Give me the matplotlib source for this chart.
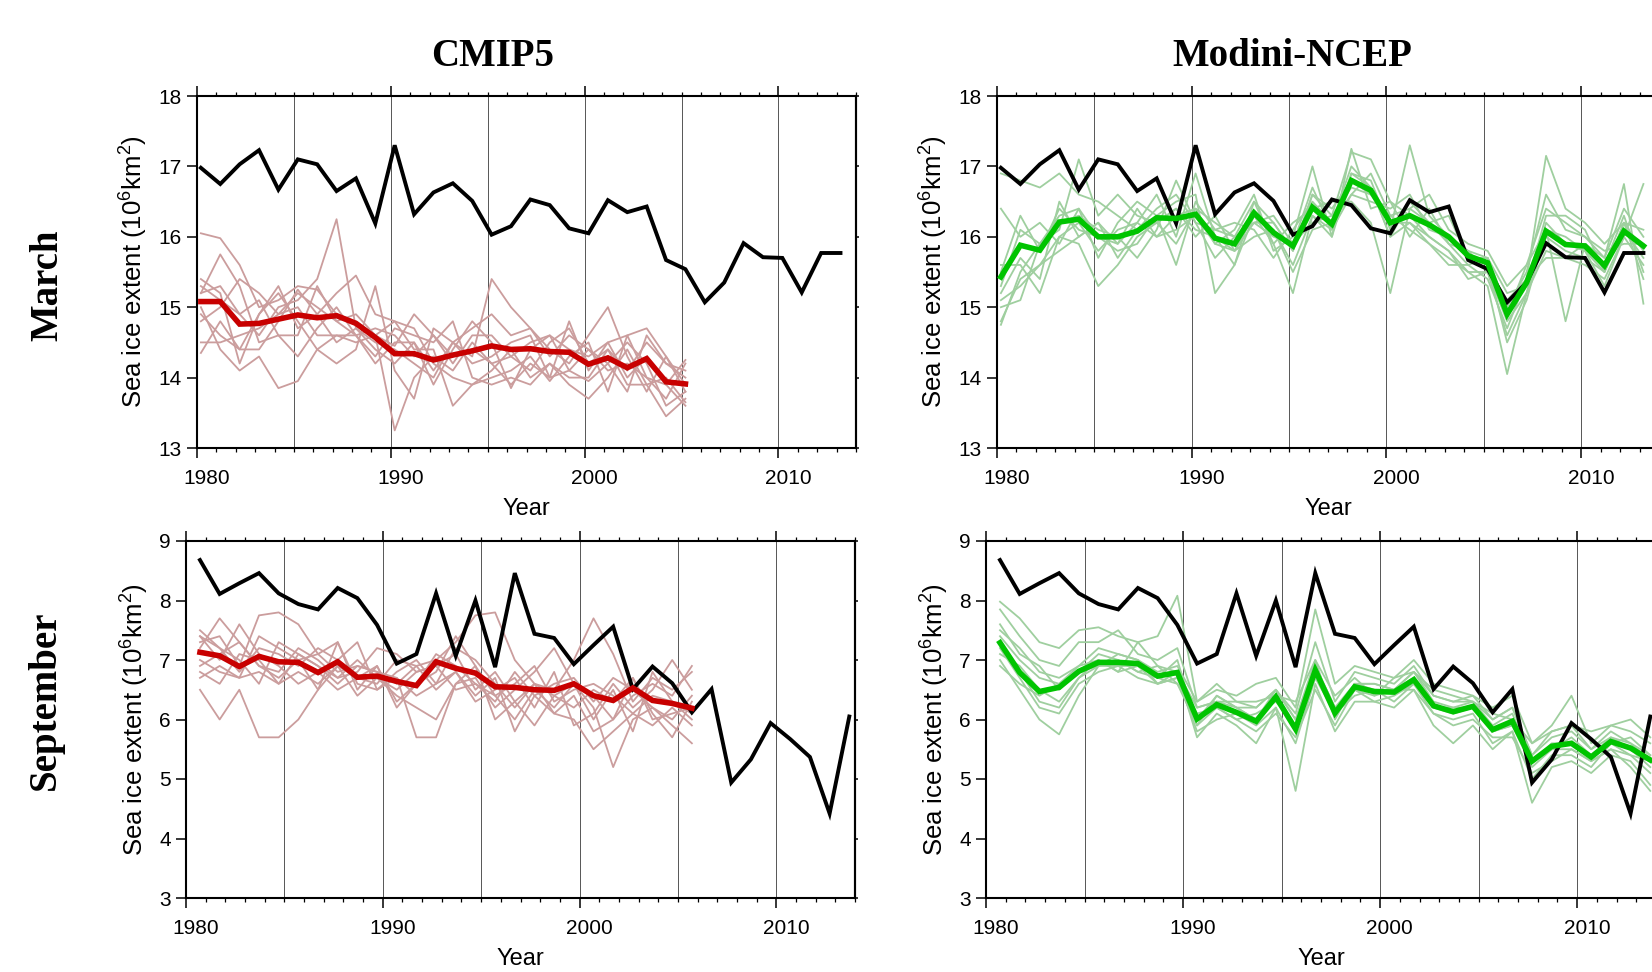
"""
Arctic sea ice extent: CMIP5 vs Modini-NCEP ensembles against observations.
March (top row) and September (bottom row), 1980-2013.
"""

import numpy as np
import matplotlib
matplotlib.use('Agg')
import matplotlib.pyplot as plt
import matplotlib.transforms as mtransforms
from matplotlib.ticker import MultipleLocator, FixedLocator

# ── Data ──────────────────────────────────────────────────────────────────────
years_obs = np.arange(1980, 2014)       # observations / Modini-NCEP
years_cmip = np.arange(1980, 2006)      # CMIP5 historical

col_titles = ['CMIP5', 'Modini-NCEP']
row_titles = ['March', 'September']
xticks = [1980, 1990, 2000, 2010]
grid_years = [1985, 1990, 1995, 2000, 2005, 2010]

obs_mar = [16.98, 16.75, 17.03, 17.23, 16.67, 17.10, 17.03, 16.65, 16.83, 16.19,
           17.30, 16.32, 16.63, 16.76, 16.51, 16.03, 16.15, 16.53, 16.45, 16.12,
           16.05, 16.52, 16.35, 16.43, 15.67, 15.54, 15.07, 15.35, 15.91, 15.71,
           15.70, 15.21, 15.77, 15.77]
obs_sep = [8.68, 8.11, 8.29, 8.46, 8.12, 7.94, 7.85, 8.21, 8.04, 7.59,
           6.94, 7.10, 8.12, 7.07, 8.00, 6.88, 8.46, 7.44, 7.37, 6.93,
           7.25, 7.56, 6.51, 6.89, 6.61, 6.12, 6.51, 4.94, 5.33, 5.94,
           5.67, 5.37, 4.42, 6.05]

cmip_mar_mean = [15.08, 15.08, 14.76, 14.77, 14.83, 14.89, 14.85, 14.88, 14.77, 14.57,
                 14.34, 14.34, 14.25, 14.32, 14.38, 14.45, 14.40, 14.41, 14.37, 14.36,
                 14.19, 14.28, 14.14, 14.27, 13.94, 13.91]
cmip_mar_members = [
    [16.05, 15.98, 15.6, 15.0, 15.1, 15.3, 15.25, 14.9, 14.8, 14.6, 14.45, 14.9, 14.6,
     14.3, 14.4, 14.2, 14.3, 14.5, 14.6, 14.4, 14.3, 14.5, 14.6, 14.7, 14.3, 13.9],
    [15.3, 15.1, 14.9, 14.6, 15.0, 15.1, 15.4, 16.25, 14.7, 14.5, 14.4, 14.2, 14.0,
     14.5, 14.3, 15.4, 15.0, 14.7, 14.3, 14.6, 14.4, 14.1, 14.2, 14.0, 13.7, 14.2],
    [14.5, 14.5, 14.6, 14.7, 14.9, 15.2, 15.0, 14.8, 14.9, 14.6, 13.25, 14.0, 14.3,
     14.1, 14.5, 14.2, 13.9, 14.2, 14.0, 14.8, 14.1, 14.5, 14.0, 14.3, 13.9, 13.6],
    [15.0, 14.4, 14.1, 14.3, 13.85, 13.95, 14.4, 14.6, 14.5, 14.6, 14.8, 14.7, 14.2,
     14.0, 13.9, 14.1, 14.4, 14.0, 14.2, 13.9, 13.7, 14.0, 14.4, 13.9, 13.45, 13.7],
    [15.2, 15.75, 15.3, 14.5, 14.6, 14.6, 15.3, 14.8, 14.6, 14.2, 14.5, 14.5, 13.9,
     14.4, 14.8, 14.5, 13.85, 14.4, 14.6, 14.1, 13.95, 14.2, 13.8, 14.6, 14.2, 14.1],
    [14.35, 14.8, 14.4, 14.4, 14.8, 15.25, 14.9, 15.2, 15.45, 14.9, 14.8, 14.4, 14.4,
     13.6, 13.9, 14.0, 14.1, 14.3, 13.95, 14.3, 14.5, 13.8, 14.6, 14.0, 13.9, 14.25],
    [15.4, 15.2, 14.2, 14.9, 15.2, 14.8, 14.4, 14.2, 14.4, 15.3, 14.1, 13.7, 14.7,
     14.5, 14.7, 14.9, 14.6, 14.7, 14.4, 14.2, 14.6, 15.0, 14.3, 13.8, 14.3, 13.8],
    [14.8, 15.0, 15.4, 15.2, 14.9, 15.0, 14.6, 14.6, 14.6, 14.3, 14.7, 14.6, 14.5,
     14.8, 14.0, 13.9, 14.0, 13.9, 14.2, 14.0, 14.0, 14.4, 13.9, 13.9, 14.0, 13.65],
    [15.2, 15.3, 14.9, 15.1, 14.6, 14.3, 14.7, 15.0, 14.6, 14.7, 14.6, 14.3, 14.6,
     14.2, 14.6, 14.6, 14.3, 14.1, 14.5, 14.7, 14.2, 14.4, 14.1, 14.5, 14.2, 14.0],
    [14.9, 14.6, 14.4, 14.9, 15.3, 14.7, 14.9, 14.5, 14.7, 14.4, 14.2, 14.5, 14.1,
     14.5, 14.2, 14.3, 14.5, 14.6, 14.0, 14.1, 14.4, 14.2, 14.5, 14.2, 13.6, 13.8],
]

cmip_sep_mean = [7.13, 7.07, 6.89, 7.06, 6.97, 6.96, 6.79, 6.97, 6.71, 6.73,
                 6.64, 6.57, 6.97, 6.86, 6.78, 6.55, 6.54, 6.50, 6.49, 6.60,
                 6.40, 6.32, 6.53, 6.32, 6.27, 6.19]
cmip_sep_members = [
    [7.3, 7.4, 6.9, 7.75, 7.8, 7.6, 7.1, 6.8, 6.9, 6.8, 6.6, 6.9, 7.0,
     7.3, 7.75, 7.8, 7.0, 6.6, 6.5, 7.0, 7.7, 7.1, 6.3, 6.7, 6.5, 6.8],
    [6.5, 6.0, 6.5, 5.7, 5.7, 6.0, 6.5, 6.9, 6.4, 6.7, 6.4, 6.2, 6.0,
     6.6, 6.9, 6.4, 6.0, 6.5, 6.2, 6.6, 6.2, 5.2, 6.0, 6.2, 5.9, 5.6],
    [7.5, 7.2, 6.8, 7.2, 7.1, 6.9, 7.2, 7.0, 7.3, 6.5, 6.7, 5.7, 5.7,
     6.6, 6.7, 6.2, 6.5, 6.8, 7.2, 6.6, 6.0, 6.5, 5.8, 6.8, 6.3, 6.0],
    [6.9, 7.1, 7.3, 6.9, 6.8, 7.2, 7.0, 6.7, 6.8, 7.2, 7.1, 6.8, 6.9,
     7.1, 6.5, 6.8, 6.3, 6.6, 6.4, 6.2, 6.5, 6.3, 6.7, 6.1, 5.7, 6.3],
    [7.0, 6.8, 6.7, 7.4, 7.2, 7.0, 6.5, 7.3, 6.6, 6.5, 6.8, 7.0, 6.6,
     6.8, 6.3, 6.5, 6.7, 6.2, 6.8, 5.9, 6.1, 6.6, 6.2, 6.5, 7.0, 6.5],
    [6.7, 6.9, 6.7, 6.8, 6.6, 7.1, 6.9, 6.6, 6.9, 6.8, 6.7, 6.4, 6.6,
     7.2, 7.0, 6.6, 6.2, 6.6, 6.1, 6.4, 5.8, 6.0, 6.7, 6.0, 6.1, 6.2],
    [7.2, 7.7, 7.3, 6.9, 6.7, 7.0, 7.1, 7.3, 6.5, 6.9, 6.2, 6.6, 6.8,
     7.4, 6.9, 6.0, 6.3, 5.9, 6.4, 6.6, 6.4, 6.0, 6.4, 6.6, 6.4, 6.9],
    [7.4, 7.0, 7.6, 7.1, 6.9, 6.6, 6.8, 6.5, 6.7, 6.6, 7.0, 6.9, 6.5,
     6.8, 6.4, 6.7, 5.8, 6.4, 6.1, 6.0, 5.5, 5.8, 6.1, 5.9, 6.2, 5.9],
    [7.4, 7.2, 7.0, 6.6, 7.3, 7.1, 6.9, 6.7, 7.0, 6.7, 6.5, 6.8, 6.9,
     6.5, 6.6, 6.4, 6.6, 6.9, 6.3, 6.5, 6.6, 6.4, 6.1, 6.4, 6.3, 6.1],
    [6.8, 6.6, 7.1, 7.0, 6.6, 6.8, 6.6, 6.9, 6.7, 6.9, 6.3, 6.6, 7.1,
     6.9, 6.6, 6.3, 6.8, 6.4, 6.6, 6.7, 6.3, 6.7, 6.5, 6.2, 6.0, 6.4],
]

modini_mar_mean = [15.43, 15.88, 15.81, 16.21, 16.25, 16.00, 16.00, 16.08, 16.27, 16.26,
                   16.32, 15.98, 15.90, 16.34, 16.06, 15.87, 16.42, 16.18, 16.80, 16.66,
                   16.20, 16.30, 16.17, 16.00, 15.73, 15.63, 14.90, 15.35, 16.08, 15.89,
                   15.87, 15.59, 16.08, 15.87]
modini_mar_members = [
    [14.8, 15.4, 15.6, 16.0, 16.2, 15.8, 16.1, 16.2, 16.6, 16.0, 16.9, 16.0, 15.6, 16.5, 16.2, 15.8, 16.6,
     16.3, 17.2, 17.1, 16.5, 16.3, 16.0, 15.8, 15.5, 15.5, 14.6, 15.2, 16.2, 15.9, 15.8, 15.5, 16.2, 15.8],
    [16.9, 16.8, 16.7, 16.9, 16.6, 16.5, 16.3, 16.1, 16.4, 16.6, 16.2, 16.1, 16.0, 16.2, 16.0, 15.9, 16.7,
     16.1, 16.9, 16.8, 16.1, 17.3, 16.3, 16.0, 15.8, 15.5, 15.1, 15.4, 17.15, 16.4, 16.2, 15.9, 16.2, 16.1],
    [15.0, 15.1, 15.9, 16.3, 16.4, 16.0, 15.8, 15.9, 16.3, 16.5, 16.6, 15.2, 15.6, 16.3, 15.9, 15.2, 16.3,
     16.1, 16.6, 16.9, 16.3, 16.1, 15.9, 15.7, 15.5, 15.3, 14.05, 15.2, 15.8, 15.7, 15.6, 15.4, 16.0, 15.6],
    [15.3, 16.1, 15.9, 16.1, 17.1, 16.3, 16.6, 16.3, 16.2, 15.9, 16.4, 16.2, 16.0, 16.5, 15.9, 16.2, 16.4,
     16.5, 16.5, 16.2, 15.2, 16.4, 16.6, 16.1, 15.9, 15.8, 15.3, 15.6, 16.1, 14.8, 15.9, 15.7, 16.75, 15.05],
    [15.6, 15.6, 15.2, 16.0, 15.9, 15.3, 15.6, 16.0, 16.2, 16.4, 16.0, 16.3, 15.8, 16.0, 16.1, 15.5, 16.1,
     16.2, 17.0, 16.7, 16.0, 16.5, 16.2, 16.3, 15.7, 15.6, 14.5, 15.1, 16.1, 16.0, 15.8, 15.3, 16.0, 16.75],
    [15.2, 15.7, 15.4, 16.5, 16.0, 16.2, 15.9, 16.4, 16.0, 16.1, 16.3, 15.9, 16.1, 16.6, 15.8, 16.0, 17.0,
     16.0, 17.25, 16.4, 16.5, 16.0, 16.4, 15.9, 15.6, 15.7, 15.0, 15.5, 16.6, 16.1, 16.0, 15.8, 15.9, 15.9],
    [14.75, 15.5, 15.9, 16.2, 16.3, 16.1, 16.0, 15.7, 16.1, 16.8, 16.2, 15.7, 16.0, 16.2, 16.3, 15.9, 16.2,
     16.3, 16.7, 16.6, 16.2, 16.2, 15.9, 15.6, 15.6, 15.4, 14.7, 15.4, 15.7, 15.7, 15.9, 15.6, 16.3, 15.5],
    [16.4, 16.0, 16.2, 15.9, 16.4, 15.7, 16.2, 16.5, 16.3, 15.6, 16.5, 16.1, 16.2, 16.1, 15.7, 16.1, 16.5,
     16.2, 16.6, 16.5, 16.4, 16.6, 16.1, 16.0, 15.7, 15.7, 15.2, 15.3, 16.3, 16.3, 16.1, 15.5, 16.2, 15.4],
    [15.5, 16.3, 15.8, 16.4, 16.1, 16.0, 15.9, 16.2, 16.0, 16.3, 16.4, 15.9, 15.8, 16.3, 16.1, 15.6, 16.3,
     16.0, 16.9, 16.7, 16.0, 16.2, 16.0, 15.8, 15.4, 15.5, 14.8, 15.2, 16.0, 15.8, 15.7, 15.5, 16.1, 15.7],
    [15.1, 15.3, 15.6, 15.8, 16.0, 16.2, 15.7, 16.1, 16.2, 16.4, 16.1, 16.0, 15.8, 16.2, 16.2, 15.8, 16.6,
     16.4, 16.8, 16.6, 16.3, 16.4, 16.2, 15.9, 15.8, 15.7, 14.9, 15.6, 16.4, 16.2, 16.0, 15.7, 16.4, 16.0],
]

modini_sep_mean = [7.29, 6.79, 6.47, 6.54, 6.81, 6.96, 6.96, 6.94, 6.73, 6.79,
                   6.01, 6.25, 6.12, 5.97, 6.38, 5.84, 6.83, 6.11, 6.55, 6.47,
                   6.46, 6.67, 6.23, 6.13, 6.22, 5.83, 5.97, 5.30, 5.55, 5.60,
                   5.37, 5.63, 5.52, 5.32]
modini_sep_members = [
    [7.98, 7.7, 7.3, 7.2, 7.5, 7.55, 7.4, 7.3, 7.4, 8.08, 6.3, 6.5, 6.4, 6.6, 6.7, 6.2, 7.85,
     6.6, 6.9, 6.8, 6.7, 7.0, 6.6, 6.5, 6.4, 6.2, 6.4, 5.6, 5.9, 6.4, 5.6, 5.9, 6.0, 5.7],
    [7.85, 7.4, 7.0, 6.9, 7.3, 7.3, 7.5, 7.1, 7.0, 7.2, 6.2, 6.3, 6.3, 6.2, 6.5, 6.1, 7.3,
     6.3, 6.8, 6.7, 6.6, 6.9, 6.4, 6.3, 6.4, 6.0, 6.2, 5.4, 5.7, 5.8, 5.5, 5.8, 5.6, 5.4],
    [7.0, 6.5, 6.0, 5.75, 6.4, 6.9, 6.9, 6.7, 6.6, 6.8, 5.7, 6.1, 5.9, 5.6, 6.2, 4.8, 6.6,
     5.8, 6.3, 6.3, 6.2, 6.5, 5.9, 5.6, 5.9, 5.5, 5.8, 4.6, 5.2, 5.3, 5.1, 5.4, 5.3, 4.9],
    [7.4, 7.0, 6.7, 6.6, 6.9, 7.0, 6.8, 7.3, 6.9, 6.6, 5.9, 6.4, 6.2, 6.0, 6.5, 6.0, 7.0,
     6.0, 6.6, 6.6, 6.5, 6.8, 6.3, 6.2, 6.3, 5.9, 6.1, 5.3, 5.5, 5.7, 5.4, 5.7, 5.5, 5.2],
    [7.2, 6.7, 6.2, 6.1, 6.6, 6.8, 6.9, 6.9, 6.6, 6.7, 5.8, 6.0, 6.1, 5.9, 6.2, 5.6, 6.7,
     6.1, 6.4, 6.5, 6.3, 6.6, 6.1, 6.0, 6.1, 5.6, 5.8, 5.0, 5.4, 5.4, 5.2, 5.6, 5.4, 5.1],
    [7.5, 7.2, 6.8, 6.7, 6.9, 7.2, 7.1, 7.0, 6.8, 6.9, 6.3, 6.6, 6.3, 6.3, 6.4, 6.3, 7.0,
     6.4, 6.7, 6.4, 6.7, 6.8, 6.5, 6.4, 6.3, 6.1, 6.0, 5.6, 5.8, 5.9, 5.8, 5.9, 5.8, 5.6],
    [6.9, 6.6, 6.4, 6.6, 6.8, 6.9, 7.0, 6.8, 6.7, 6.6, 6.1, 6.2, 6.0, 6.1, 6.3, 5.9, 6.9,
     6.2, 6.5, 6.3, 6.4, 6.6, 6.2, 6.1, 6.2, 5.8, 5.9, 5.2, 5.5, 5.5, 5.3, 5.5, 5.4, 5.3],
    [7.1, 6.9, 6.5, 6.3, 6.7, 7.0, 6.8, 6.9, 6.7, 7.0, 5.9, 6.2, 6.0, 5.8, 6.1, 5.7, 6.5,
     5.9, 6.5, 6.4, 6.5, 6.5, 6.1, 5.9, 6.0, 5.7, 5.7, 5.1, 5.3, 5.5, 5.3, 5.5, 5.2, 4.8],
    [7.3, 6.8, 6.3, 6.2, 6.7, 6.9, 7.1, 7.0, 6.6, 6.7, 6.0, 6.4, 6.2, 6.0, 6.4, 5.8, 6.8,
     6.1, 6.6, 6.5, 6.5, 6.7, 6.2, 6.2, 6.2, 5.8, 5.9, 5.3, 5.6, 5.6, 5.4, 5.6, 5.7, 5.4],
    [7.6, 7.1, 6.9, 6.5, 6.8, 7.1, 7.0, 6.8, 6.9, 6.8, 6.2, 6.3, 6.2, 6.2, 6.5, 6.0, 6.9,
     6.2, 6.6, 6.6, 6.5, 6.8, 6.4, 6.3, 6.3, 6.0, 6.2, 5.4, 5.8, 5.9, 5.5, 5.7, 5.6, 5.3],
]

# ── Style ─────────────────────────────────────────────────────────────────────
MONTH_OFFSET = {'March': 0.2, 'September': 0.71}   # mid-month position within year
YLIMS = {'March': (13, 18), 'September': (3, 9)}
CMIP_MEMBER = '#cb9d9d'
CMIP_MEAN = '#c80000'
MODINI_MEMBER = '#9fcf9f'
MODINI_MEAN = '#00c400'
YLABEL = 'Sea ice extent (10$^{6}$km$^{2}$)'

plt.rcParams['font.family'] = 'Liberation Sans'
plt.rcParams['mathtext.fontset'] = 'custom'
plt.rcParams['mathtext.rm'] = 'Liberation Sans'
plt.rcParams['mathtext.it'] = 'Liberation Sans:italic'
plt.rcParams['mathtext.bf'] = 'Liberation Sans:bold'

W, H = 1652, 972
# axes boxes in pixels: left, top, right, bottom
BOXES = {
    ('March', 'CMIP5'):           (197, 96, 856, 448),
    ('March', 'Modini-NCEP'):     (997, 96, 1659, 448),
    ('September', 'CMIP5'):       (186, 541, 855, 898),
    ('September', 'Modini-NCEP'): (986, 541, 1656, 898),
}


def style_axes(fig, ax, month):
    ax.set_xlim(1980, 2014)
    ax.set_ylim(*YLIMS[month])
    ax.xaxis.set_major_locator(FixedLocator(xticks))
    ax.xaxis.set_minor_locator(MultipleLocator(1))
    ax.yaxis.set_major_locator(MultipleLocator(1))
    ax.tick_params(axis='x', which='major', direction='out', length=7, width=1.1,
                   top=True, labelsize=15, pad=8)
    ax.tick_params(axis='x', which='minor', direction='out', length=3, width=0.9, top=True)
    ax.tick_params(axis='y', which='major', direction='out', length=7, width=1.1,
                   labelsize=15, pad=4)
    for s in ax.spines.values():
        s.set_linewidth(1.5)

    right = ax.secondary_yaxis('right')
    right.yaxis.set_major_locator(MultipleLocator(1))
    right.tick_params(direction='out', length=2.5, width=1.1, labelright=False)
    right.spines['right'].set_linewidth(1.5)

    for g in grid_years:
        ax.axvline(g, color='#555555', lw=0.7, zorder=0)

    # year labels sit a little right of their tick
    shift = mtransforms.ScaledTranslation(7 / 72, 0, fig.dpi_scale_trans)
    for lab in ax.get_xticklabels():
        lab.set_transform(lab.get_transform() + shift)

    ax.set_xlabel('Year', fontsize=17, labelpad=7)
    ax.set_ylabel(YLABEL, fontsize=18.5, labelpad=6)


def main():
    fig = plt.figure(figsize=(W / 100, H / 100), dpi=100)

    panels = {
        ('March', 'CMIP5'): (years_cmip, cmip_mar_members, cmip_mar_mean,
                             CMIP_MEMBER, CMIP_MEAN, obs_mar),
        ('March', 'Modini-NCEP'): (years_obs, modini_mar_members, modini_mar_mean,
                                   MODINI_MEMBER, MODINI_MEAN, obs_mar),
        ('September', 'CMIP5'): (years_cmip, cmip_sep_members, cmip_sep_mean,
                                 CMIP_MEMBER, CMIP_MEAN, obs_sep),
        ('September', 'Modini-NCEP'): (years_obs, modini_sep_members, modini_sep_mean,
                                       MODINI_MEMBER, MODINI_MEAN, obs_sep),
    }

    for (month, model), (yrs, members, mean, c_mem, c_mean, obs) in panels.items():
        l, t, r, b = BOXES[(month, model)]
        ax = fig.add_axes([l / W, 1 - b / H, (r - l) / W, (b - t) / H])
        x = yrs + MONTH_OFFSET[month]
        for m in members:
            ax.plot(x, m, color=c_mem, lw=1.3, zorder=2)
        ax.plot(years_obs + MONTH_OFFSET[month], obs, color='black', lw=2.8,
                solid_joinstyle='miter', zorder=3)
        ax.plot(x, mean, color=c_mean, lw=4.0, solid_joinstyle='miter', zorder=4)
        style_axes(fig, ax, month)

    # ── Column / row headings ────────────────────────────────────────────────
    serif = dict(family='Liberation Serif', weight='bold', size=28)
    fig.text(493 / W, 1 - 56 / H, col_titles[0], ha='center', va='center', **serif)
    fig.text(1292 / W, 1 - 56 / H, col_titles[1], ha='center', va='center', **serif)
    fig.text(48 / W, 1 - 285 / H, row_titles[0], ha='center', va='center',
             rotation=90, **serif)
    fig.text(45 / W, 1 - 700 / H, row_titles[1], ha='center', va='center',
             rotation=90, **serif)

    fig.savefig('out.png', dpi=100)


if __name__ == '__main__':
    main()
